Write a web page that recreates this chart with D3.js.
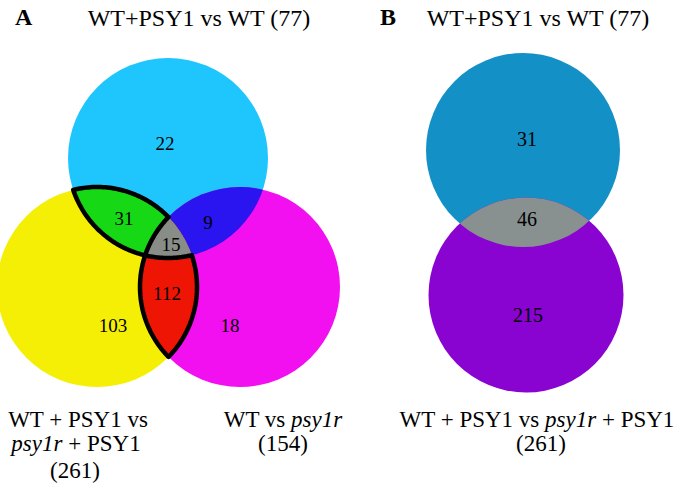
<!DOCTYPE html>
<html><head><meta charset="utf-8">
<script src="https://cdn.jsdelivr.net/npm/d3@7"></script>
<style>
body{margin:0;background:#fff}
text{font-family:"Liberation Serif","Times New Roman",Times,serif;fill:#000}
</style>
</head><body>
<svg id="chart" width="685" height="489"></svg>
<script>
// ---------- data ----------
const panelLetters = ["A", "B"];
const titleA = "WT+PSY1 vs WT (77)";
const titleB = "WT+PSY1 vs WT (77)";
const setKeysA = ["C", "Y", "M"];
const setSizesA = [77, 261, 154];
const regionKeysA = ["C", "CY", "CM", "CYM", "YM", "Y", "M"];
const regionCountsA = [22, 31, 9, 15, 112, 103, 18];
const setKeysB = ["T", "U"];
const setSizesB = [77, 261];
const regionKeysB = ["T", "TU", "U"];
const regionCountsB = [31, 46, 215];

// ---------- layout ----------
const svg = d3.select("#chart");
const circA = {
  C: {x: 168, y: 158, r: 100, fill: "#1fc6fd"},
  Y: {x: 97,  y: 287, r: 100, fill: "#f5ef05"},
  M: {x: 240, y: 287, r: 100, fill: "#f20ff0"}
};
const lensColA = {CY: "#16d815", CM: "#2a14ef", YM: "#ef1505", CYM: "#888d88"};
const circB = {
  T: {x: 523, y: 150, r: 97, fill: "#1391c6"},
  U: {x: 526, y: 295, r: 97.5, fill: "#8904d1"}
};
const lensColB = "#889090";

const labelPosA = {C: [165, 150], CY: [124, 225], CM: [208, 229], CYM: [171, 251],
                   YM: [167, 300], Y: [113, 332], M: [230, 332]};
const labelPosB = {T: [527, 146], TU: [527, 226], U: [528, 322]};

const defs = svg.append("defs");
function clipFor(id, c) {
  defs.append("clipPath").attr("id", id)
    .append("circle").attr("cx", c.x).attr("cy", c.y).attr("r", c.r);
}
Object.entries(circA).forEach(([k, c]) => clipFor("clipA" + k, c));
Object.entries(circB).forEach(([k, c]) => clipFor("clipB" + k, c));

// ---------- Panel A ----------
const gA = svg.append("g");
gA.selectAll("circle.base").data(setKeysA).join("circle")
  .attr("class", "base")
  .attr("cx", k => circA[k].x).attr("cy", k => circA[k].y).attr("r", k => circA[k].r)
  .attr("fill", k => circA[k].fill);

function lens(g, circ, a, b, col, prefix) {
  g.append("g").attr("clip-path", `url(#${prefix}${b})`)
    .append("circle").attr("cx", circ[a].x).attr("cy", circ[a].y).attr("r", circ[a].r)
    .attr("fill", col);
}
lens(gA, circA, "Y", "C", lensColA.CY, "clipA");
lens(gA, circA, "C", "M", lensColA.CM, "clipA");
lens(gA, circA, "Y", "M", lensColA.YM, "clipA");
gA.append("g").attr("clip-path", "url(#clipAC)")
  .append("g").attr("clip-path", "url(#clipAM)")
  .append("circle").attr("cx", circA.Y.x).attr("cy", circA.Y.y).attr("r", circA.Y.r)
  .attr("fill", lensColA.CYM);

// geometry helpers for outlines
function inter(c1, c2) {
  const dx = c2.x - c1.x, dy = c2.y - c1.y, d = Math.hypot(dx, dy);
  const a = (c1.r * c1.r - c2.r * c2.r + d * d) / (2 * d);
  const h = Math.sqrt(Math.max(0, c1.r * c1.r - a * a));
  const px = c1.x + a * dx / d, py = c1.y + a * dy / d;
  return [[px + h * dy / d, py - h * dx / d], [px - h * dy / d, py + h * dx / d]];
}
const inside = (p, c) => Math.hypot(p[0] - c.x, p[1] - c.y) < c.r - 0.01;
function pick(pts, test) { return pts.find(test) || pts[0]; }
function arcPts(c, A, B, ins, outs) {
  const a0 = Math.atan2(A[1] - c.y, A[0] - c.x);
  const a1 = Math.atan2(B[1] - c.y, B[0] - c.x);
  let d1 = a1 - a0; while (d1 < 0) d1 += 2 * Math.PI;
  const cands = [d1, d1 - 2 * Math.PI];
  const ok = d => {
    const m = a0 + d / 2, p = [c.x + c.r * Math.cos(m), c.y + c.r * Math.sin(m)];
    return ins.every(k => inside(p, k)) && outs.every(k => !inside(p, k));
  };
  const d = cands.find(ok) ?? cands[0];
  const n = 48, out = [];
  for (let i = 0; i <= n; i++) {
    const t = a0 + d * i / n;
    out.push([c.x + c.r * Math.cos(t), c.y + c.r * Math.sin(t)]);
  }
  return out;
}
const {C, Y, M} = circA;
const P1 = pick(inter(Y, C), p => !inside(p, M));
const T3 = pick(inter(Y, C), p => inside(p, M));
const T1 = pick(inter(Y, M), p => inside(p, C));
const Bt = pick(inter(Y, M), p => !inside(p, C));
const T2 = pick(inter(C, M), p => inside(p, Y));

const greenPts = [].concat(
  arcPts(Y, P1, T1, [C], [M]),
  arcPts(M, T1, T2, [C, Y], []),
  arcPts(C, T2, P1, [Y], [M]));
const redPts = [].concat(
  arcPts(C, T2, T3, [Y, M], []),
  arcPts(Y, T3, Bt, [M], [C]),
  arcPts(M, Bt, T2, [Y], [C]));
const line = d3.line().curve(d3.curveLinear);
[greenPts, redPts].forEach(pts => {
  gA.append("path").attr("d", line(pts) + "Z")
    .attr("fill", "none").attr("stroke", "#000").attr("stroke-width", 4.5)
    .attr("stroke-linejoin", "round");
});

gA.selectAll("text.cnt").data(regionKeysA).join("text")
  .attr("class", "cnt")
  .attr("x", k => labelPosA[k][0]).attr("y", k => labelPosA[k][1])
  .attr("text-anchor", "middle").attr("font-size", 19)
  .text((k, i) => regionCountsA[i]);

// titles
svg.append("text").attr("x", 15).attr("y", 25).attr("font-size", 24)
  .attr("font-weight", "bold").text(panelLetters[0]);
svg.append("text").attr("x", 380).attr("y", 25).attr("font-size", 24)
  .attr("font-weight", "bold").text(panelLetters[1]);
svg.append("text").attr("x", 199).attr("y", 26).attr("font-size", 24)
  .attr("text-anchor", "middle").text(titleA);
svg.append("text").attr("x", 538).attr("y", 26).attr("font-size", 24)
  .attr("text-anchor", "middle").text(titleB);

// set labels A
function richText(x, y, parts) {
  const t = svg.append("text").attr("x", x).attr("y", y).attr("font-size", 23)
    .attr("text-anchor", "middle");
  parts.forEach(p => {
    t.append("tspan").attr("font-style", p.i ? "italic" : "normal").text(p.s);
  });
  return t;
}
richText(78, 427, [{s: "WT + PSY1 vs"}]);
richText(76, 451, [{s: "psy1r", i: true}, {s: " + PSY1"}]);
richText(75, 478, [{s: `(${setSizesA[1]})`}]);
richText(283, 427, [{s: "WT vs "}, {s: "psy1r", i: true}]);
richText(283, 451, [{s: `(${setSizesA[2]})`}]);

// ---------- Panel B ----------
const gB = svg.append("g");
gB.selectAll("circle.base").data(setKeysB).join("circle")
  .attr("class", "base")
  .attr("cx", k => circB[k].x).attr("cy", k => circB[k].y).attr("r", k => circB[k].r)
  .attr("fill", k => circB[k].fill);
lens(gB, circB, "U", "T", lensColB, "clipB");

gB.selectAll("text.cnt").data(regionKeysB).join("text")
  .attr("class", "cnt")
  .attr("x", k => labelPosB[k][0]).attr("y", k => labelPosB[k][1])
  .attr("text-anchor", "middle").attr("font-size", 20)
  .text((k, i) => regionCountsB[i]);

richText(537, 427, [{s: "WT + PSY1 vs "}, {s: "psy1r", i: true}, {s: " + PSY1"}]);
richText(541, 451, [{s: `(${setSizesB[1]})`}]);
</script>
</body></html>
